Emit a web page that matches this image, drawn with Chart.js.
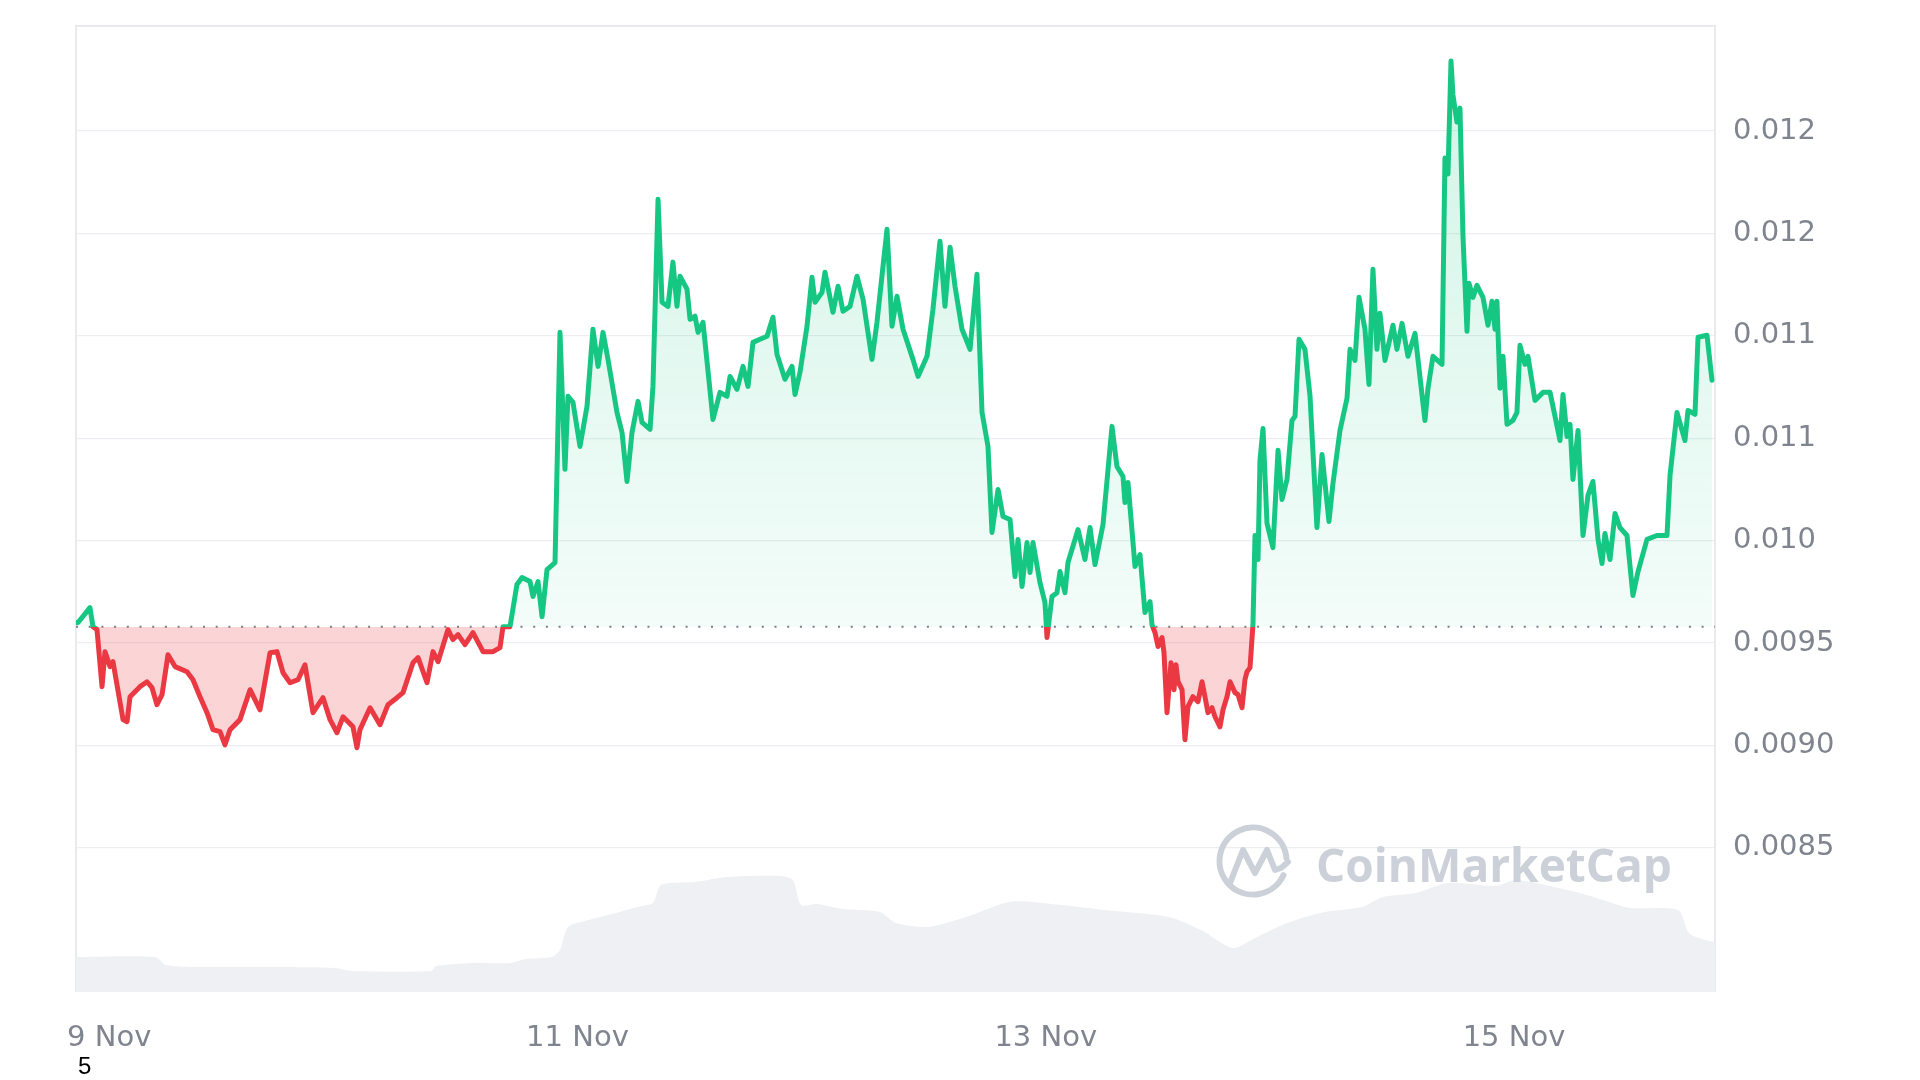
<!DOCTYPE html>
<html>
<head>
<meta charset="utf-8">
<script src="https://cdn.jsdelivr.net/npm/chart.js@4.4.1/dist/chart.umd.min.js"></script>
<style>
html,body{margin:0;padding:0;background:#fff;width:1920px;height:1080px;overflow:hidden;}
#wrap{position:relative;width:1920px;height:1080px;}
#chart{position:absolute;left:0;top:0;}
#wm{position:absolute;left:1316px;top:841px;font-family:"Open Sans",sans-serif;font-weight:700;font-size:46px;line-height:1;color:#ccd1d9;white-space:nowrap;}
#logo{position:absolute;left:1213px;top:821px;}
#note{position:absolute;left:78px;top:1054px;font-family:"Liberation Sans",Arial,sans-serif;font-size:24px;line-height:1;color:#000;}
</style>
</head>
<body>
<div id="wrap">
<canvas id="chart" width="1920" height="1080"></canvas>
<svg id="logo" width="80" height="80" viewBox="0 0 80 80">
  <path d="M70.4 54.2 A33.5 33.5 0 1 1 73.4 37.1" fill="none" stroke="#ccd1d9" stroke-width="6" stroke-linecap="round"/>
  <polyline points="17,62 30,29 42,52 54,29 62,49 68,47 75,41" fill="none" stroke="#ccd1d9" stroke-width="6" stroke-linecap="round" stroke-linejoin="round"/>
</svg>
<div id="wm">CoinMarketCap</div>
<div id="note">5</div>
</div>
<script>
const BASE = 0.00958;

const hours = [0.00,0.21,1.43,1.74,2.15,2.67,2.97,3.49,3.79,4.82,5.23,5.54,6.56,7.28,7.79,8.30,8.82,9.43,10.15,11.38,11.99,12.71,13.43,14.04,14.76,15.27,15.79,16.81,17.84,18.86,19.89,20.60,21.22,21.94,22.76,23.47,24.29,25.32,26.04,26.75,27.37,28.39,28.80,29.11,30.14,31.16,31.98,32.90,33.52,34.54,35.06,35.98,36.59,37.11,38.13,38.64,39.16,39.87,40.69,41.72,42.74,43.46,43.77,44.49,45.20,45.72,46.54,46.84,47.36,47.77,48.28,49.10,49.61,50.12,50.43,50.94,51.66,52.38,52.99,53.51,54.02,54.53,55.45,55.97,56.48,56.99,57.61,58.02,58.84,59.14,59.66,60.07,60.68,61.19,61.60,61.91,62.63,62.94,63.45,63.76,64.27,65.29,66.01,66.73,67.04,67.75,68.37,68.88,69.39,70.11,70.83,71.44,71.85,72.67,73.39,73.70,74.21,74.93,75.44,75.75,76.47,76.77,77.59,78.11,78.62,79.34,80.05,80.67,81.59,82.10,83.13,83.64,84.15,84.77,85.79,86.31,87.23,87.84,88.56,89.07,89.59,90.10,90.82,91.64,92.35,92.87,93.48,93.89,94.51,95.02,95.74,96.25,96.56,96.97,97.48,97.79,98.09,98.81,99.32,99.53,100.04,100.55,100.86,101.37,101.68,102.71,103.42,103.94,104.45,105.27,106.19,106.70,107.32,107.52,107.83,108.55,109.06,109.57,110.09,110.29,110.60,110.91,111.32,111.52,111.83,112.24,112.55,112.75,112.96,113.37,113.67,113.98,114.49,115.01,115.42,115.72,116.03,116.44,116.75,117.26,117.57,117.98,118.29,118.80,119.11,119.52,119.82,120.03,120.34,120.64,120.85,121.16,121.36,121.67,122.08,122.69,123.21,123.62,124.13,124.64,124.95,125.36,125.97,126.49,127.20,127.72,128.43,128.84,129.56,130.28,130.59,131.10,131.51,132.12,132.53,132.94,133.35,133.66,134.17,134.99,135.40,135.92,136.53,137.25,138.27,138.58,139.09,140.02,140.32,140.63,140.94,141.14,141.55,141.86,142.17,142.58,142.78,143.19,143.60,144.22,144.73,145.14,145.45,145.65,145.96,146.27,146.68,147.29,147.70,148.01,148.52,148.83,149.55,150.37,151.09,151.60,152.11,152.42,152.83,153.14,153.44,153.96,154.47,154.98,155.49,156.01,156.42,156.72,157.24,157.75,158.26,158.98,159.59,160.11,161.03,162.05,163.08,163.39,164.10,164.92,165.23,165.95,166.26,167.18,167.69];

const prices = [0.009600,0.009600,0.009673,0.009580,0.009566,0.009287,0.009458,0.009385,0.009409,0.009126,0.009116,0.009238,0.009287,0.009311,0.009282,0.009199,0.009248,0.009443,0.009385,0.009360,0.009321,0.009238,0.009160,0.009077,0.009067,0.009003,0.009077,0.009126,0.009272,0.009174,0.009453,0.009458,0.009355,0.009306,0.009321,0.009394,0.009160,0.009233,0.009126,0.009062,0.009140,0.009091,0.008989,0.009077,0.009184,0.009101,0.009199,0.009233,0.009258,0.009404,0.009429,0.009306,0.009458,0.009409,0.009566,0.009517,0.009541,0.009492,0.009551,0.009458,0.009458,0.009478,0.009580,0.009580,0.009786,0.009820,0.009800,0.009727,0.009800,0.009629,0.009859,0.009893,0.011017,0.010348,0.010705,0.010675,0.010460,0.010656,0.011032,0.010851,0.011017,0.010885,0.010626,0.010528,0.010289,0.010528,0.010680,0.010577,0.010543,0.010753,0.011667,0.011164,0.011144,0.011360,0.011144,0.011291,0.011228,0.011081,0.011096,0.011017,0.011066,0.010592,0.010724,0.010705,0.010802,0.010739,0.010851,0.010753,0.010968,0.010983,0.010998,0.011091,0.010910,0.010788,0.010851,0.010714,0.010822,0.011047,0.011286,0.011164,0.011213,0.011311,0.011115,0.011242,0.011120,0.011144,0.011291,0.011179,0.010885,0.011066,0.011521,0.011047,0.011193,0.011032,0.010885,0.010802,0.010900,0.011130,0.011462,0.011144,0.011433,0.011242,0.011032,0.010934,0.011301,0.010626,0.010460,0.010040,0.010250,0.010118,0.010103,0.009825,0.010006,0.009776,0.009991,0.009844,0.009991,0.009795,0.009698,0.009527,0.009727,0.009746,0.009849,0.009746,0.009893,0.010054,0.009908,0.010064,0.009883,0.010079,0.010558,0.010362,0.010313,0.010186,0.010284,0.009874,0.009932,0.009649,0.009702,0.009590,0.009551,0.009483,0.009527,0.009453,0.009160,0.009404,0.009272,0.009394,0.009311,0.009272,0.009028,0.009189,0.009238,0.009214,0.009311,0.009238,0.009160,0.009184,0.009140,0.009091,0.009174,0.009238,0.009311,0.009258,0.009248,0.009184,0.009321,0.009360,0.009380,0.009590,0.010025,0.009908,0.010392,0.010548,0.010084,0.009966,0.010441,0.010201,0.010299,0.010587,0.010607,0.010983,0.010934,0.010705,0.010064,0.010421,0.010094,0.010279,0.010538,0.010695,0.010934,0.010880,0.011188,0.011032,0.010763,0.011325,0.010934,0.011110,0.010880,0.011052,0.010934,0.011061,0.010900,0.011012,0.010587,0.010744,0.010900,0.010861,0.011868,0.011790,0.012342,0.012176,0.012044,0.012112,0.011482,0.011022,0.011257,0.011188,0.011247,0.011188,0.011052,0.011169,0.011032,0.011169,0.010744,0.010900,0.010568,0.010587,0.010626,0.010954,0.010861,0.010900,0.010685,0.010724,0.010724,0.010607,0.010489,0.010714,0.010509,0.010568,0.010299,0.010538,0.010025,0.010221,0.010289,0.010006,0.009888,0.010035,0.009908,0.010133,0.010064,0.010025,0.009732,0.009849,0.010006,0.010025,0.010025,0.010318,0.010626,0.010489,0.010636,0.010617,0.010993,0.011003,0.010783];

const volHours = [0.00,8.10,9.23,11.89,21.12,26.55,28.19,36.39,36.90,40.69,44.49,46.13,48.80,49.61,50.43,52.58,55.35,57.50,59.14,59.96,63.45,66.73,72.16,73.49,74.31,75.95,78.62,82.41,84.05,87.33,91.23,95.63,98.91,105.47,112.03,115.31,118.59,120.85,124.13,128.02,131.82,133.97,137.35,140.63,145.55,147.70,153.75,156.52,159.29,164.21,165.33,166.97,168.00];
const volumes = [3.5,3.5,2.7,2.5,2.5,2.4,2.1,2.1,2.6,2.9,2.9,3.3,3.5,4.2,6.5,7.2,7.9,8.5,8.9,10.7,11.0,11.5,11.6,11.2,8.7,8.8,8.3,8.0,6.9,6.5,7.5,9.0,8.9,8.2,7.5,6.2,4.4,5.4,6.9,8.0,8.5,9.5,9.9,10.9,10.6,11.2,10.0,9.2,8.4,8.2,5.9,5.2,5.0];

const xTickHours = [3.4, 51.4, 99.4, 147.4];
const xTickLabels = ['9 Nov', '11 Nov', '13 Nov', '15 Nov'];
const yTickValues = [0.0085, 0.0090, 0.0095, 0.0100, 0.0105, 0.0110, 0.0115, 0.0120];
const yTickLabels = ['0.0085', '0.0090', '0.0095', '0.010', '0.011', '0.011', '0.012', '0.012'];

const GREEN = '#16c784';
const RED = '#ea3943';

function baseFraction(chart) {
  const a = chart.chartArea;
  const yb = chart.scales.y.getPixelForValue(BASE);
  return Math.min(1, Math.max(0, (yb - a.top) / (a.bottom - a.top)));
}
function splitStroke(c) {
  const chart = c.chart;
  if (!chart.chartArea || !chart.scales.y) return GREEN;
  const a = chart.chartArea, t = baseFraction(chart);
  const g = chart.ctx.createLinearGradient(0, a.top, 0, a.bottom);
  g.addColorStop(0, GREEN); g.addColorStop(t, GREEN);
  g.addColorStop(t, RED); g.addColorStop(1, RED);
  return g;
}
function splitFill(c) {
  const chart = c.chart;
  if (!chart.chartArea || !chart.scales.y) return 'rgba(22,199,132,0.1)';
  const a = chart.chartArea, t = baseFraction(chart);
  const g = chart.ctx.createLinearGradient(0, a.top, 0, a.bottom);
  g.addColorStop(0, 'rgba(22,199,132,0.20)');
  g.addColorStop(t, 'rgba(22,199,132,0.05)');
  g.addColorStop(t, 'rgba(234,57,67,0.22)');
  g.addColorStop(1, 'rgba(234,57,67,0.22)');
  return g;
}

const frame = {
  id: 'frame',
  beforeDatasetsDraw(chart) {
    const a = chart.chartArea, ctx = chart.ctx;
    ctx.save();
    ctx.strokeStyle = '#e8eaee';
    ctx.lineWidth = 2;
    ctx.beginPath();
    ctx.moveTo(a.left, a.bottom); ctx.lineTo(a.left, a.top);
    ctx.lineTo(a.right, a.top); ctx.lineTo(a.right, a.bottom);
    ctx.stroke();
    ctx.restore();
  }
};

const tickFont = { family: 'DejaVu Sans', size: 29 };
const tickColor = '#7f848e';

new Chart(document.getElementById('chart'), {
  type: 'line',
  data: {
    datasets: [
      {
        label: 'Price',
        data: hours.map((h, i) => ({ x: h, y: prices[i] })),
        yAxisID: 'y',
        borderColor: splitStroke,
        backgroundColor: splitFill,
        borderWidth: 5,
        borderJoinStyle: 'round',
        borderCapStyle: 'round',
        pointRadius: 0,
        tension: 0,
        fill: { target: { value: BASE } },
        order: 0
      },
      {
        label: 'Open',
        data: [{ x: 0, y: BASE }, { x: 168, y: BASE }],
        yAxisID: 'y',
        borderColor: '#7a7f89',
        borderWidth: 2,
        borderDash: [2, 10.7],
        pointRadius: 0,
        fill: false,
        order: 1
      },
      {
        label: 'Volume',
        data: volHours.map((h, i) => ({ x: h, y: volumes[i] })),
        yAxisID: 'yv',
        borderWidth: 0,
        borderColor: 'rgba(0,0,0,0)',
        backgroundColor: '#eef0f3',
        pointRadius: 0,
        tension: 0.25,
        fill: 'origin',
        order: 2
      }
    ]
  },
  options: {
    responsive: false,
    animation: false,
    events: [],
    layout: { padding: { left: 76, top: 26, right: 0, bottom: 0 } },
    plugins: { legend: { display: false }, tooltip: { enabled: false } },
    scales: {
      x: {
        type: 'linear',
        min: 0,
        max: 168,
        afterBuildTicks(s) { s.ticks = xTickHours.map(v => ({ value: v })); },
        afterFit(s) { s.height = 88; s.paddingLeft = 0; s.paddingRight = 0; },
        grid: { display: false, drawTicks: false },
        border: { display: false },
        ticks: {
          autoSkip: false,
          maxRotation: 0,
          padding: 29,
          font: tickFont,
          color: tickColor,
          callback: (v, i) => xTickLabels[i]
        }
      },
      y: {
        position: 'right',
        min: 0.007796,
        max: 0.012513,
        afterBuildTicks(s) { s.ticks = yTickValues.map(v => ({ value: v })); },
        afterFit(s) { s.width = 205; s.paddingTop = 0; s.paddingBottom = 0; },
        grid: { color: '#eceef1', lineWidth: 1.2, drawTicks: false },
        border: { display: false },
        ticks: {
          padding: 18,
          font: tickFont,
          color: tickColor,
          callback: (v, i) => yTickLabels[i]
        }
      },
      yv: {
        display: false,
        min: 0,
        max: 96.5
      }
    }
  },
  plugins: [frame]
});
</script>
</body>
</html>
